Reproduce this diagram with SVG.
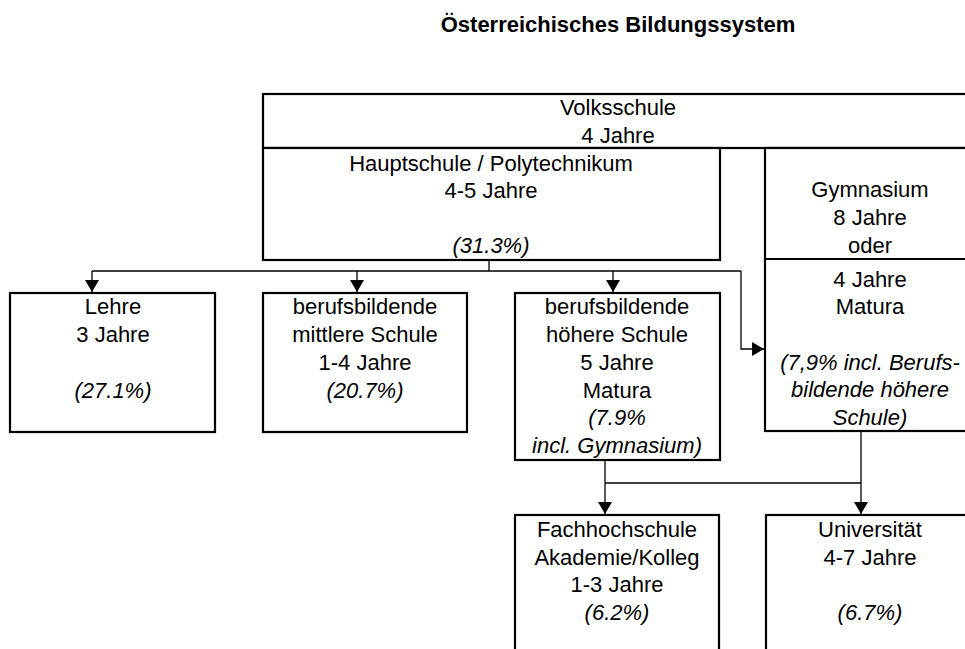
<svg xmlns="http://www.w3.org/2000/svg" width="965" height="649" viewBox="0 0 965 649">
<style>
  .box { fill: #fff; stroke: #000; stroke-width: 2.2; }
  .div { fill: none; stroke: #000; stroke-width: 2.2; }
  .con { fill: none; stroke: #000; stroke-width: 1.3; }
  text { font-family: "Liberation Sans", Arial, sans-serif; font-size: 22px; fill: #000; text-anchor: middle; }
  .it { font-style: italic; }
  .title { font-weight: bold; }
</style>
<defs>
  <marker id="arr" viewBox="0 0 12 14" refX="12" refY="7" markerWidth="12" markerHeight="14" markerUnits="userSpaceOnUse" orient="auto">
    <path d="M0,0 L12,7 L0,14 Z" fill="#000"/>
  </marker>
</defs>
<rect width="965" height="649" fill="#fff"/>

<text class="title" x="618" y="32">Österreichisches Bildungssystem</text>

<g id="volksschule">
  <rect class="box" x="263" y="94" width="712" height="54"/>
  <text x="618" y="115">Volksschule</text>
  <text x="618" y="143">4 Jahre</text>
</g>

<g id="hauptschule">
  <rect class="box" x="263" y="148" width="457" height="112"/>
  <text x="491" y="171">Hauptschule / Polytechnikum</text>
  <text x="491" y="198">4-5 Jahre</text>
  <text class="it" x="491" y="253">(31.3%)</text>
</g>

<g id="gymnasium">
  <rect class="box" x="765" y="148" width="210" height="283"/>
  <line class="div" x1="765" y1="259" x2="975" y2="259"/>
  <text x="870" y="197">Gymnasium</text>
  <text x="870" y="225">8 Jahre</text>
  <text x="870" y="253">oder</text>
  <text x="870" y="287">4 Jahre</text>
  <text x="870" y="314">Matura</text>
  <text class="it" x="870" y="370">(7,9% incl. Berufs-</text>
  <text class="it" x="870" y="397">bildende höhere</text>
  <text class="it" x="870" y="425">Schule)</text>
</g>

<g id="lehre">
  <rect class="box" x="10" y="293" width="205" height="139"/>
  <text x="113" y="314">Lehre</text>
  <text x="113" y="342">3 Jahre</text>
  <text class="it" x="113" y="398">(27.1%)</text>
</g>

<g id="bms">
  <rect class="box" x="263" y="293" width="204" height="139"/>
  <text x="365" y="314">berufsbildende</text>
  <text x="365" y="342">mittlere Schule</text>
  <text x="365" y="370">1-4 Jahre</text>
  <text class="it" x="365" y="398">(20.7%)</text>
</g>

<g id="bhs">
  <rect class="box" x="515" y="293" width="205" height="167"/>
  <text x="617" y="314">berufsbildende</text>
  <text x="617" y="342">höhere Schule</text>
  <text x="617" y="370">5 Jahre</text>
  <text x="617" y="398">Matura</text>
  <text class="it" x="617" y="425">(7.9%</text>
  <text class="it" x="617" y="453">incl. Gymnasium)</text>
</g>

<g id="fachhochschule">
  <rect class="box" x="515" y="515" width="204" height="150"/>
  <text x="617" y="537">Fachhochschule</text>
  <text x="617" y="565">Akademie/Kolleg</text>
  <text x="617" y="592">1-3 Jahre</text>
  <text class="it" x="617" y="620">(6.2%)</text>
</g>

<g id="universitaet">
  <rect class="box" x="766" y="515" width="209" height="150"/>
  <text x="870" y="537">Universität</text>
  <text x="870" y="565">4-7 Jahre</text>
  <text class="it" x="870" y="620">(6.7%)</text>
</g>

<g id="connectors">
  <polyline class="con" points="489,260 489,271"/>
  <polyline class="con" points="92,271 741,271"/>
  <line class="con" x1="92" y1="271" x2="92" y2="292" marker-end="url(#arr)"/>
  <line class="con" x1="357" y1="271" x2="357" y2="292" marker-end="url(#arr)"/>
  <line class="con" x1="613" y1="271" x2="613" y2="292" marker-end="url(#arr)"/>
  <polyline class="con" points="741,271 741,349 764,349" marker-end="url(#arr)"/>
  <line class="con" x1="605" y1="460" x2="605" y2="514" marker-end="url(#arr)"/>
  <line class="con" x1="861" y1="431" x2="861" y2="514" marker-end="url(#arr)"/>
  <line class="con" x1="605" y1="483" x2="861" y2="483"/>
</g>
</svg>
